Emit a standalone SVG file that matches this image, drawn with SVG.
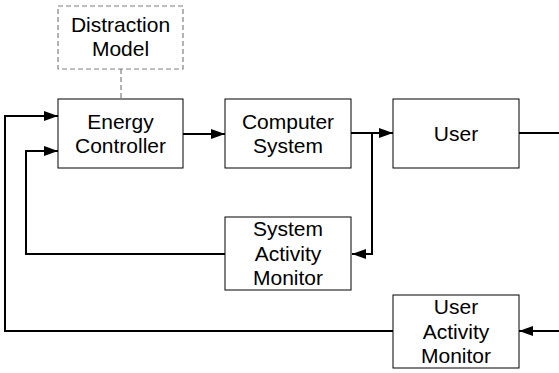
<svg xmlns="http://www.w3.org/2000/svg" width="559" height="373" viewBox="0 0 559 373">
<style>
.box{fill:#fff;stroke:#000;stroke-width:1}
.dash{fill:#fff;stroke:#808080;stroke-width:1.2;stroke-dasharray:5,3}
.t{font-family:"Liberation Sans",Arial,sans-serif;font-size:21px;fill:#000;text-anchor:middle}
.c{fill:none;stroke:#000;stroke-width:2}
.d{fill:none;stroke:#808080;stroke-width:1.2;stroke-dasharray:5,3}
</style>
<defs>
<marker id="a" markerUnits="userSpaceOnUse" markerWidth="14" markerHeight="10" refX="14" refY="5" orient="auto">
<path d="M0,0 L14,5 L0,10 Z" fill="#000"/>
</marker>
</defs>
<g id="connectors">
<path class="d" d="M121,69 V99"/>
<path class="c" d="M183,134 H225" marker-end="url(#a)"/>
<path class="c" d="M351,133 H393" marker-end="url(#a)"/>
<path class="c" d="M372,133 V254 H352" marker-end="url(#a)"/>
<path class="c" d="M519,133 H559"/>
<path class="c" d="M225,254 H26 V151 H58" marker-end="url(#a)"/>
<path class="c" d="M393,331 H5 V116 H58" marker-end="url(#a)"/>
<path class="c" d="M559,331 H519" marker-end="url(#a)"/>
</g>
<g id="distraction-model">
<rect class="dash" x="58" y="6" width="125" height="63"/>
<text class="t" x="120.5" y="32">Distraction</text>
<text class="t" x="120.5" y="56">Model</text>
</g>
<g id="energy-controller">
<rect class="box" x="58" y="99" width="125" height="69"/>
<text class="t" x="120.5" y="129">Energy</text>
<text class="t" x="120.5" y="153">Controller</text>
</g>
<g id="computer-system">
<rect class="box" x="225" y="99" width="126" height="69"/>
<text class="t" x="288" y="129">Computer</text>
<text class="t" x="288" y="153">System</text>
</g>
<g id="user">
<rect class="box" x="393" y="99" width="126" height="69"/>
<text class="t" x="456" y="141">User</text>
</g>
<g id="system-activity-monitor">
<rect class="box" x="225" y="217" width="126" height="73"/>
<text class="t" x="288" y="236">System</text>
<text class="t" x="288" y="260.5">Activity</text>
<text class="t" x="288" y="285">Monitor</text>
</g>
<g id="user-activity-monitor">
<rect class="box" x="393" y="295" width="126" height="73"/>
<text class="t" x="456" y="314">User</text>
<text class="t" x="456" y="338.5">Activity</text>
<text class="t" x="456" y="363">Monitor</text>
</g>
</svg>
